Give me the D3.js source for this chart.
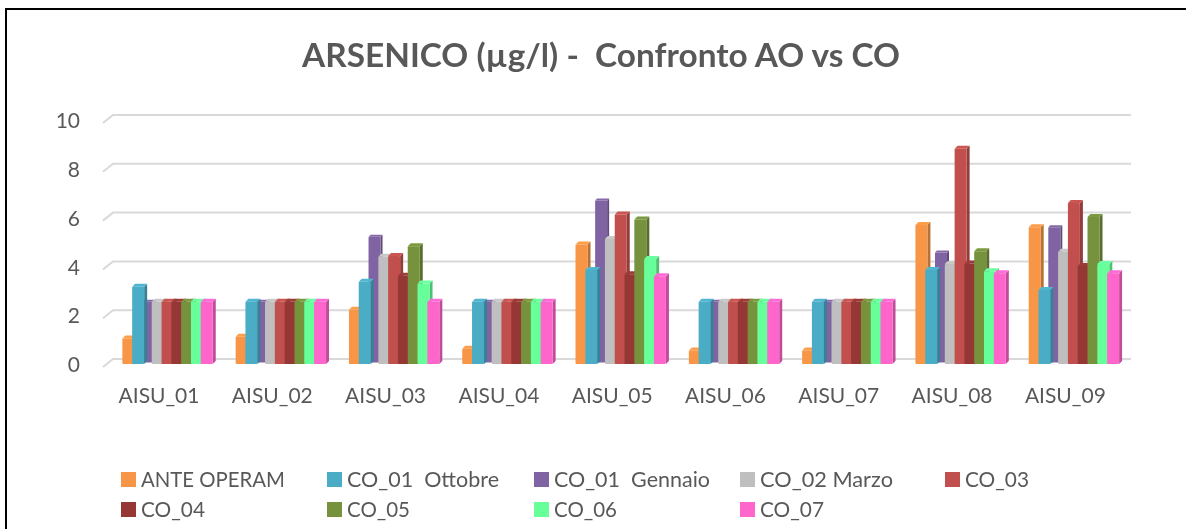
<!doctype html>
<html>
<head>
<meta charset="UTF-8">
<title>ARSENICO</title>
<script src="https://d3js.org/d3.v7.min.js"></script>
<style>
  html, body { margin: 0; padding: 0; background: #fff; overflow: hidden; }
  svg { display: block; font-family: Lato, "Open Sans", sans-serif; }
</style>
</head>
<body>
<svg width="1186" height="529"></svg>
<script>
var categories = ["AISU_01","AISU_02","AISU_03","AISU_04","AISU_05","AISU_06","AISU_07","AISU_08","AISU_09"];
var seriesNames = ["ANTE OPERAM","CO_01  Ottobre","CO_01  Gennaio","CO_02 Marzo","CO_03","CO_04","CO_05","CO_06","CO_07"];
var seriesColors = ["#F79646","#4BACC6","#8064A2","#BFBFBF","#C0504D","#953735","#76923C","#66FF99","#FF66CC"];
var yTicks = [0,2,4,6,8,10];

var anteOperam = [1.05,1.12,2.22,0.63,4.9,0.55,0.55,5.7,5.6];
var coOttobre  = [3.17,2.55,3.37,2.55,3.85,2.55,2.55,3.85,3.03];
var coGennaio  = [2.55,2.55,5.22,2.55,6.7,2.55,2.55,4.57,5.6];
var coMarzo    = [2.55,2.55,4.4,2.55,5.12,2.55,2.55,4.1,4.6];
var co03       = [2.55,2.55,4.43,2.55,6.13,2.55,2.55,8.82,6.6];
var co04       = [2.55,2.55,3.62,2.55,3.68,2.55,2.55,4.12,4.02];
var co05       = [2.55,2.55,4.83,2.55,5.92,2.55,2.55,4.62,6.02];
var co06       = [2.55,2.55,3.3,2.55,4.3,2.55,2.55,3.8,4.1];
var co07       = [2.55,2.55,2.55,2.55,3.6,2.55,2.55,3.72,3.72];
var seriesValues = [anteOperam,coOttobre,coGennaio,coMarzo,co03,co04,co05,co06,co07];

// purple sits a bit further back in the original 3d chart, so it is painted first
var drawOrder = [2,0,1,3,4,5,6,7,8];

var svg = d3.select("svg");

// the source is a soft screenshot, a very small blur gets closer to it
svg.append("defs").append("filter")
  .attr("id","soft")
  .attr("x","-5%").attr("y","-5%").attr("width","110%").attr("height","110%")
  .append("feGaussianBlur").attr("stdDeviation",0.4);

svg.append("path")
  .attr("d", "M6 529V9H1186")
  .attr("fill", "none")
  .attr("stroke", "#000")
  .attr("stroke-width", 2);

var chart = svg.append("g").attr("filter","url(#soft)");

chart.append("text")
  .attr("x", 302).attr("y", 67)
  .attr("font-size", 32).attr("font-weight", 700)
  .attr("fill", "#595959")
  .attr("textLength", 598)
  .attr("lengthAdjust", "spacingAndGlyphs")
  .style("white-space", "pre")
  .text("ARSENICO (µg/l) -  Confronto AO vs CO");

var y = d3.scaleLinear().domain([0,10]).range([364,120]);
var x0 = d3.scaleBand().domain(categories).range([103.35,1123]);
var x1 = d3.scaleBand().domain(d3.range(9)).range([19,107.2]);

var barW = 12, depth = 3, backShift = 5;

// gridlines on the back wall, with the little diagonal on the left
var grid = chart.append("g");
yTicks.forEach(function(t){
  var gy = y(t) - backShift;
  grid.append("path")
    .attr("d", d3.line()([[103,gy+8],[113,gy],[1131,gy]]))
    .attr("fill","none")
    .attr("stroke","#d9d9d9")
    .attr("stroke-width",2);
});

// bars
var marks = chart.append("g");
drawOrder.forEach(function(s){
  var base = d3.color(seriesColors[s]);
  var lift = s === 2 ? 1.5 : 0;
  var d = s === 2 ? 2 : depth;
  categories.forEach(function(c,i){
    var left = x0(c) + x1(s);
    var top = y(seriesValues[s][i]);
    var bottom = y(0) - lift;
    var g = marks.append("g");
    g.append("path")
      .attr("d", d3.line()([[left+barW,top],[left+barW+d,top-d],[left+barW+d,bottom-d],[left+barW,bottom]]))
      .attr("fill", base.darker(0.8));
    g.append("path")
      .attr("d", d3.line()([[left,top],[left+d,top-d],[left+barW+d,top-d],[left+barW,top]]))
      .attr("fill", base.brighter(0.15));
    g.append("rect")
      .attr("x",left).attr("y",top)
      .attr("width",barW).attr("height",bottom-top)
      .attr("rx",1)
      .attr("fill", seriesColors[s]);
  });
});

// axes
var yAxis = chart.append("g")
  .attr("transform","translate(80,1)")
  .call(d3.axisLeft(y).tickValues(yTicks).tickSize(0).tickPadding(0));
var xAxis = chart.append("g")
  .attr("transform","translate(-1,388)")
  .call(d3.axisBottom(x0).tickSize(0).tickPadding(0));
[yAxis,xAxis].forEach(function(a){
  a.select(".domain").remove();
  a.selectAll("text")
    .attr("font-family","Lato, 'Open Sans', sans-serif")
    .attr("font-size",21)
    .attr("fill","#595959");
});
xAxis.selectAll("text").attr("dy","0.71em");

// legend, text widths fitted to the original font
var legendX = [121,327,534,740,945];
var legendTextW = [144,152,156,133,64,64,63,63,64];
var legend = chart.append("g");
seriesNames.forEach(function(name,i){
  var lx = legendX[i % 5];
  var ly = i < 5 ? 472 : 502;
  legend.append("rect")
    .attr("x",lx).attr("y",ly)
    .attr("width",15).attr("height",15)
    .attr("fill",seriesColors[i]);
  legend.append("text")
    .attr("x",lx+20).attr("y",ly+15)
    .attr("font-size",22)
    .attr("fill","#595959")
    .attr("textLength",legendTextW[i])
    .attr("lengthAdjust","spacingAndGlyphs")
    .style("white-space","pre")
    .text(name);
});
</script>
</body>
</html>
